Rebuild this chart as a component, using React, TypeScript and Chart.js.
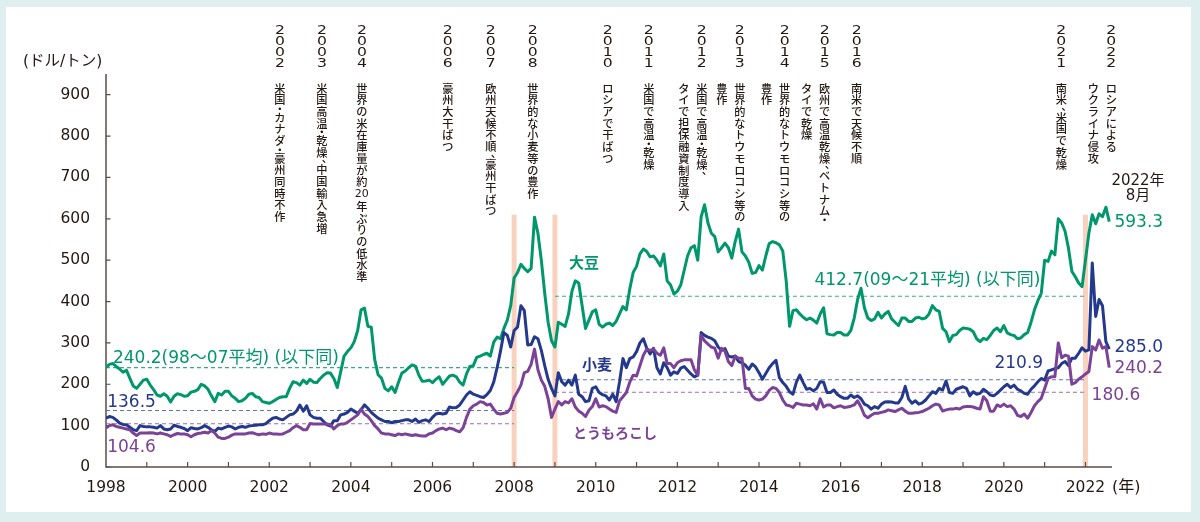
import React, { useEffect, useRef } from 'react';
import { Chart, registerables } from 'chart.js';

Chart.register(...registerables);

// Monthly prices (US$/t), January 1998 – August 2022
const START_YEAR = 1998;

const soybean: number[] = [
  241, 248, 250, 243, 237, 229, 234, 215, 196, 190, 200, 210,
  212, 198, 187, 174, 171, 177, 171, 157, 171, 177, 175, 171,
  172, 181, 183, 187, 200, 196, 188, 172, 158, 178, 174, 183,
  183, 172, 166, 158, 160, 166, 176, 178, 170, 168, 158, 156,
  154, 158, 163, 168, 170, 170, 190, 206, 204, 198, 210, 202,
  212, 205, 204, 214, 222, 228, 227, 214, 192, 230, 268, 279,
  288, 303, 330, 380, 384, 340, 338, 260, 223, 215, 190, 184,
  194, 180, 205, 227, 232, 240, 247, 244, 222, 207, 208, 210,
  204, 212, 218, 200, 210, 220, 222, 218, 205, 198, 225, 243,
  245, 265, 268, 272, 275, 268, 302, 314, 310, 335, 355, 390,
  457, 470, 490, 480, 472, 480, 604, 565, 500, 420, 350, 305,
  290, 350, 345, 340, 370, 425, 450, 445, 390, 335, 355, 375,
  380, 345, 338, 345, 348, 342, 352, 370, 388, 380, 430, 470,
  485, 515, 527, 521, 508, 510, 500, 486, 515, 450, 440, 418,
  425, 440, 475, 510, 530, 535, 500, 605, 634, 590, 565, 557,
  520, 530, 541, 530, 505, 545, 575, 520, 510, 495, 468, 470,
  487, 476, 510, 540, 545, 542, 537, 522, 450, 340, 378, 380,
  370, 362, 356, 360, 355, 348, 370, 385, 322, 320, 319, 325,
  325, 319, 319, 330, 360, 405, 432, 385, 360, 354, 358, 374,
  360, 370, 376, 358, 350, 342, 360, 360, 352, 352, 360, 362,
  358, 360, 370, 390, 380, 376, 335, 327, 303, 318, 320, 330,
  336, 335, 333, 327, 310, 303, 311, 308, 318, 330, 336, 327,
  342, 324, 320, 318, 310, 312, 320, 325, 350, 380, 402, 420,
  500, 497, 522, 513, 600, 590, 570, 529, 473, 460, 445, 436,
  500, 565, 610, 588, 612, 605, 628, 593.3,
];

const wheat: number[] = [
  118, 122, 120, 114, 106, 103, 102, 96, 90, 88, 100, 98,
  97, 97, 96, 94, 100, 92, 90, 92, 101, 98, 96, 93,
  88, 95, 93, 92, 95, 100, 96, 90, 86, 94, 92, 96,
  99, 97, 92, 96, 98, 96, 99, 100, 101, 102, 102, 105,
  112, 118, 120, 116, 114, 120, 126, 128, 135, 150, 135, 148,
  126, 120, 118, 118, 110, 102, 99, 112, 112, 126, 128, 132,
  140, 135, 130, 138, 150, 142, 132, 125, 118, 114, 110, 110,
  107, 110, 110, 112, 114, 114, 110, 116, 108, 112, 114, 110,
  120, 128, 130, 128, 130, 145, 143, 144, 150, 162, 174, 182,
  176, 173, 170, 168, 175, 185, 205, 240, 280, 325, 318, 290,
  330, 338, 390, 378, 295, 296, 315, 310, 282, 245, 212, 190,
  172, 228, 206, 198, 210, 198, 222, 176, 170, 158, 160, 190,
  194, 180, 175, 172, 162, 176, 158, 206, 262, 240, 262, 266,
  279, 300, 310, 287, 273, 287, 240, 225, 252, 240, 222, 230,
  226, 239, 243, 234, 225, 218, 222, 325, 318, 314, 311, 305,
  290, 282, 286, 268, 266, 268, 255, 252, 246, 236, 249, 242,
  228, 212, 226, 240, 250, 258, 216, 204, 195, 182, 176, 205,
  222, 204, 188, 190, 184, 190, 206, 205, 180, 180, 186, 176,
  170, 166, 166, 174, 168, 172, 165, 152, 148, 140, 146, 142,
  152, 157, 158, 157, 155, 155, 168, 195, 164, 154, 160, 152,
  155, 162, 172, 182, 178, 190, 186, 208, 180, 178, 188, 191,
  194, 190, 172, 182, 176, 178, 188, 182, 174, 172, 178, 186,
  194, 200, 192, 198, 188, 184, 178, 176, 188, 196, 206, 214,
  210, 232, 235, 238, 240, 250, 255, 245, 263, 263, 275, 288,
  280, 283, 493, 364, 405, 390, 303, 285.0,
];

const corn: number[] = [
  94, 100, 102, 98, 96, 94, 92, 90, 82, 76, 82, 82,
  82, 83, 82, 80, 82, 80, 78, 74, 78, 81, 80, 80,
  78, 73, 78, 81, 82, 84, 82, 88, 82, 72, 69, 69,
  72, 77, 80, 80, 80, 80, 82, 83, 80, 78, 80, 79,
  82, 80, 80, 79, 80, 84, 88, 95, 100, 96, 90, 90,
  105, 104, 104, 104, 104, 104, 102, 92, 100, 104, 104, 108,
  114, 120, 126, 140, 128, 122, 112, 100, 92, 82, 80, 80,
  78, 76, 80, 78, 80, 78, 76, 78, 76, 75, 75, 80,
  82, 88, 92, 94, 90, 94, 92, 88, 85, 95, 120, 140,
  148, 152, 158, 156, 150, 152, 140, 130, 128, 130, 132, 142,
  168, 182, 198, 228, 231, 248, 285, 235, 210, 195, 165, 120,
  140, 158, 150, 158, 155, 165, 145, 135, 130, 122, 137, 146,
  165, 145, 148, 146, 140, 135, 132, 160, 170, 180, 205, 222,
  220, 245, 270, 285, 282, 285, 275, 270, 288, 250, 250, 240,
  252, 257, 259, 259, 259, 235, 222, 318, 305, 297, 290, 287,
  263, 287, 280, 255, 245, 268, 263, 263, 190, 190, 172, 164,
  162, 164, 172, 185, 192, 190, 180, 162, 150, 148, 144, 154,
  152, 150, 150, 148, 153, 140, 165, 145, 150, 150, 143, 146,
  148, 144, 145, 147, 150, 160, 145, 125, 119, 125, 130, 130,
  132, 134, 138, 136, 134, 138, 142, 135, 130, 130, 131, 132,
  134, 138, 142, 148, 152, 150, 135, 138, 140, 140, 142, 140,
  145, 146, 146, 145, 142, 140, 170, 160, 135, 135, 150, 146,
  152, 146, 148, 140, 125, 122, 128, 118, 132, 148, 158, 166,
  190, 214, 218, 218, 300, 264, 270, 268, 200, 204, 212, 218,
  225, 231, 291, 283, 307, 287, 291, 240.2,
];

// Period averages
const avg98to07 = { soybean: 240.2, wheat: 136.5, corn: 104.6 };
const avg09to21 = { soybean: 412.7, wheat: 210.9, corn: 180.6 };

const yTicks = [0, 100, 200, 300, 400, 500, 600, 700, 800, 900];
const xLabelYears = [1998, 2000, 2002, 2004, 2006, 2008, 2010, 2012, 2014, 2016, 2018, 2020, 2022];
const minorTickYears = [
  1999, 2000, 2001, 2002, 2003, 2004, 2005, 2006, 2007, 2008, 2009, 2010,
  2011, 2012, 2013, 2014, 2015, 2016, 2017, 2018, 2019, 2020, 2021, 2022,
];
const shockYears = [2008, 2009, 2022];

const events: { year: number; lines: string[] }[] = [
  { year: 2002, lines: ['米国・カナダ・豪州同時不作'] },
  { year: 2003, lines: ['米国高温・乾燥、中国輸入急増'] },
  { year: 2004, lines: ['世界の米在庫量が約20年ぶりの低水準'] },
  { year: 2006, lines: ['豪州大干ばつ'] },
  { year: 2007, lines: ['欧州天候不順、豪州干ばつ'] },
  { year: 2008, lines: ['世界的な小麦等の豊作'] },
  { year: 2010, lines: ['ロシアで干ばつ'] },
  { year: 2011, lines: ['米国で高温・乾燥'] },
  { year: 2012, lines: ['米国で高温・乾燥、', 'タイで担保融資制度導入'] },
  { year: 2013, lines: ['世界的なトウモロコシ等の', '豊作'] },
  { year: 2014, lines: ['世界的なトウモロコシ等の', '豊作'] },
  { year: 2015, lines: ['欧州で高温乾燥、ベトナム・', 'タイで乾燥'] },
  { year: 2016, lines: ['南米で天候不順'] },
  { year: 2021, lines: ['南米、米国で乾燥'] },
  { year: 2022, lines: ['ロシアによる', 'ウクライナ侵攻'] },
];

// Styling
const GREEN = '#00976c';
const BLUE = '#24398c';
const PURPLE = '#7b4397';
const INK = '#231815';
const AXIS = '#5a4e4b';
const BAND = '#f9d2bf';
const PAGE = '#dfeff0';
const LATIN = '"DejaVu Sans", "Noto Sans CJK JP", sans-serif';
const CJK = '"Noto Sans CJK JP", sans-serif';

// horizontal offset (px) of each event column from its year position
const eventColumnShift = [10.7, 11.8, 11, 15.3, 17.5, 18.7, 12, 12.2, 24.4, 21.6, 25.7, 24.9, 16, 16.6, 25.8];

const monthly = (vals: number[]) => vals.map((v, i) => ({ x: START_YEAR + i / 12, y: v }));
const span = (from: number, to: number, v: number) => [{ x: from, y: v }, { x: to, y: v }];

function drawColumn(ctx: CanvasRenderingContext2D, text: string, cx: number, top: number) {
  const PITCH = 11.7;
  const HALF = 5.7;
  const glyphFont = `500 11.2px ${CJK}`;
  let y = top;
  const tokens = text.match(/\d+|[\s\S]/g) || [];
  for (const t of tokens) {
    if (/^\d+$/.test(t)) {
      ctx.font = `11px ${LATIN}`;
      ctx.textAlign = 'center';
      ctx.textBaseline = 'middle';
      ctx.fillText(t, cx, y + 6.8);
      y += 13;
    } else if (t === '、') {
      ctx.font = glyphFont;
      ctx.textAlign = 'left';
      ctx.textBaseline = 'alphabetic';
      ctx.fillText(t, cx, y + 4);
      y += HALF;
    } else if (t === '・') {
      ctx.font = glyphFont;
      ctx.textAlign = 'center';
      ctx.textBaseline = 'middle';
      ctx.fillText(t, cx, y + HALF / 2);
      y += HALF;
    } else {
      ctx.font = glyphFont;
      ctx.textAlign = 'center';
      ctx.textBaseline = 'middle';
      ctx.fillText(t, cx, y + PITCH / 2);
      y += PITCH;
    }
  }
}

const decorations = {
  id: 'decorations',
  beforeDraw(chart: Chart) {
    const { ctx, width, height } = chart;
    ctx.save();
    ctx.fillStyle = PAGE;
    ctx.fillRect(0, 0, width, height);
    ctx.fillStyle = '#ffffff';
    ctx.fillRect(6, 7, 1185, 505);
    ctx.restore();
  },
  beforeDatasetsDraw(chart: Chart) {
    const { ctx, chartArea } = chart;
    const xs = chart.scales.x;
    const ys = chart.scales.y;
    ctx.save();
    // shock bands
    ctx.fillStyle = BAND;
    for (const yr of shockYears) {
      const px = xs.getPixelForValue(yr);
      const top = ys.getPixelForValue(610);
      ctx.fillRect(px - 2.5, top, 5, chartArea.bottom - top);
    }
    // axes
    ctx.strokeStyle = AXIS;
    ctx.lineWidth = 1.5;
    ctx.beginPath();
    ctx.moveTo(chartArea.left, chartArea.top);
    ctx.lineTo(chartArea.left, chartArea.bottom);
    ctx.lineTo(chartArea.right, chartArea.bottom);
    ctx.stroke();
    ctx.lineWidth = 1.2;
    ctx.beginPath();
    for (const v of yTicks) {
      const py = ys.getPixelForValue(v);
      ctx.moveTo(chartArea.left, py);
      ctx.lineTo(chartArea.left + 4.5, py);
    }
    for (const yr of minorTickYears) {
      const px = xs.getPixelForValue(yr);
      ctx.moveTo(px, chartArea.bottom);
      ctx.lineTo(px, chartArea.bottom - 5);
    }
    ctx.stroke();
    ctx.restore();
  },
  afterDraw(chart: Chart) {
    const { ctx } = chart;
    const xs = chart.scales.x;
    const ys = chart.scales.y;
    const X = (yr: number) => xs.getPixelForValue(yr);
    const Y = (v: number) => ys.getPixelForValue(v);
    ctx.save();

    // unit captions
    ctx.fillStyle = INK;
    ctx.font = `15.5px ${LATIN}`;
    ctx.textAlign = 'left';
    ctx.textBaseline = 'middle';
    ctx.fillText('(ドル/トン)', 23, 62);
    ctx.font = `16px ${LATIN}`;
    ctx.fillText('(年)', 1112, 488);

    // event columns
    events.forEach((ev, i) => {
      const cx = X(ev.year) + eventColumnShift[i];
      ctx.fillStyle = INK;
      ctx.font = `13px ${LATIN}`;
      ctx.textAlign = 'center';
      ctx.textBaseline = 'middle';
      String(ev.year).split('').forEach((d, k) => {
        ctx.save();
        ctx.translate(cx, 31 + k * 11);
        ctx.scale(1.2, 1);
        ctx.fillText(d, 0, 0);
        ctx.restore();
      });
      ev.lines.forEach((line, k) => drawColumn(ctx, line, cx - k * 18, 82.5));
    });

    // series names
    ctx.textAlign = 'center';
    ctx.textBaseline = 'middle';
    ctx.font = `bold 15px ${CJK}`;
    ctx.fillStyle = GREEN;
    ctx.fillText('大豆', X(2009.71), Y(495));
    ctx.fillStyle = BLUE;
    ctx.fillText('小麦', X(2010.03), Y(249));
    ctx.font = `bold 14px ${CJK}`;
    ctx.fillStyle = PURPLE;
    ctx.textAlign = 'left';
    ctx.fillText('とうもろこし', X(2009.44), Y(82));

    // average captions
    ctx.font = `17px ${LATIN}`;
    ctx.textAlign = 'left';
    ctx.fillStyle = GREEN;
    ctx.fillText(`${avg98to07.soybean.toFixed(1)}(98～07平均) (以下同)`, X(1998.17), Y(261));
    ctx.fillText(`${avg09to21.soybean.toFixed(1)}(09～21平均) (以下同)`, X(2015.36), Y(451));
    ctx.fillStyle = BLUE;
    ctx.fillText(avg98to07.wheat.toFixed(1), X(1998.03), Y(155));
    ctx.fillText(avg09to21.wheat.toFixed(1), X(2019.77), Y(251));
    ctx.fillStyle = PURPLE;
    ctx.fillText(avg98to07.corn.toFixed(1), X(1998.03), Y(48));
    ctx.fillText(avg09to21.corn.toFixed(1), X(2022.15), Y(172));

    // latest values
    const lastX = X(2022.71);
    ctx.fillStyle = GREEN;
    ctx.fillText(soybean[soybean.length - 1].toFixed(1), lastX, Y(592));
    ctx.fillStyle = BLUE;
    ctx.fillText(wheat[wheat.length - 1].toFixed(1), lastX, Y(288));
    ctx.fillStyle = PURPLE;
    ctx.fillText(corn[corn.length - 1].toFixed(1), lastX, Y(239));

    ctx.fillStyle = INK;
    ctx.font = `15px ${LATIN}`;
    ctx.textAlign = 'center';
    ctx.fillText('2022年', 1138, 181);
    ctx.fillText('8月', 1138, 196);
    ctx.restore();
  },
};

const lineStyle = (color: string) => ({
  borderColor: color,
  borderWidth: 3,
  pointRadius: 0,
  borderJoinStyle: 'round' as const,
  tension: 0,
  fill: false,
});

const avgStyle = (color: string) => ({
  borderColor: color,
  borderWidth: 1.1,
  borderDash: [4, 3],
  pointRadius: 0,
  fill: false,
});

export default function App() {
  const ref = useRef<HTMLCanvasElement>(null);

  useEffect(() => {
    document.body.style.margin = '0';
    const canvas = ref.current;
    if (!canvas) return;
    const chart = new Chart(canvas, {
      type: 'line',
      data: {
        datasets: [
          { label: 'とうもろこし', data: monthly(corn), ...lineStyle(PURPLE), order: 1 },
          { label: '小麦', data: monthly(wheat), ...lineStyle(BLUE), order: 2 },
          { label: '大豆', data: monthly(soybean), ...lineStyle(GREEN), order: 3 },
          { label: 'soy98', data: span(1998, 2008, avg98to07.soybean), ...avgStyle('#3aaa86'), order: 10 },
          { label: 'wheat98', data: span(1998, 2008, avg98to07.wheat), ...avgStyle('#5f72b3'), order: 10 },
          { label: 'corn98', data: span(1998, 2008, avg98to07.corn), ...avgStyle('#9a6cb0'), order: 10 },
          { label: 'soy09', data: span(2009, 2022, avg09to21.soybean), ...avgStyle('#3aaa86'), order: 10 },
          { label: 'wheat09', data: span(2009, 2022, avg09to21.wheat), ...avgStyle('#5f72b3'), order: 10 },
          { label: 'corn09', data: span(2009, 2022, avg09to21.corn), ...avgStyle('#9a6cb0'), order: 10 },
        ] as any,
      },
      options: {
        animation: false,
        responsive: false,
        events: [],
        layout: { padding: { left: 0, top: 74, right: 88, bottom: 0 } },
        plugins: { legend: { display: false }, tooltip: { enabled: false } },
        scales: {
          x: {
            type: 'linear',
            min: 1998,
            max: 2022.65,
            grid: { display: false, drawTicks: false },
            border: { display: false },
            afterBuildTicks: (s: any) => {
              s.ticks = xLabelYears.map((v) => ({ value: v }));
            },
            afterFit: (s: any) => {
              s.height = 55;
            },
            ticks: {
              callback: (v: any) => String(v),
              font: { family: LATIN, size: 15.5 },
              color: INK,
              padding: 12,
              maxRotation: 0,
              autoSkip: false,
            },
          },
          y: {
            type: 'linear',
            min: 0,
            max: 950,
            grid: { display: false, drawTicks: false },
            border: { display: false },
            afterBuildTicks: (s: any) => {
              s.ticks = yTicks.map((v) => ({ value: v }));
            },
            afterFit: (s: any) => {
              s.width = 106;
            },
            ticks: {
              callback: (v: any) => String(v),
              font: { family: LATIN, size: 15.5 },
              color: INK,
              padding: 16,
            },
          },
        },
      } as any,
      plugins: [decorations as any],
    });
    return () => chart.destroy();
  }, []);

  return (
    <div style={{ position: 'absolute', left: 0, top: 0, width: 1200, height: 522 }}>
      <canvas ref={ref} width={1200} height={522} />
    </div>
  );
}
